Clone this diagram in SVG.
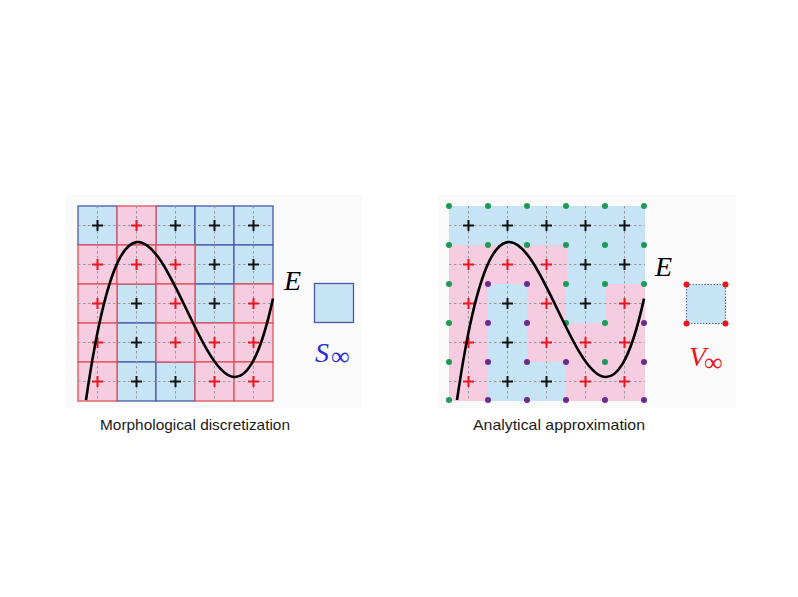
<svg xmlns="http://www.w3.org/2000/svg" xmlns:xlink="http://www.w3.org/1999/xlink" width="798" height="597" viewBox="0 0 798 597">
<style>
.bg{fill:#fafafa}
.pk{fill:#f6cde0}
.bl{fill:#c6e4f6}
.pks{fill:#f6cde0;stroke:#e2505c;stroke-width:1.3}
.bls{fill:#c6e4f6;stroke:#4a5aa8;stroke-width:1.3}
.dash{stroke:#9a9a9a;stroke-width:1;stroke-dasharray:2.5 2.5;fill:none}
.ck{stroke:#111;stroke-width:2;fill:none}
.cr{stroke:#e8141e;stroke-width:2;fill:none}
.curve{stroke:#000;stroke-width:2.6;fill:none}
.g{fill:#1f9a55}
.p{fill:#6b2a8c}
.rd{fill:#e8141e}
.math{font-family:"Liberation Serif","DejaVu Serif",serif;font-style:italic}
.inf{font-family:"Liberation Serif","DejaVu Serif",serif;font-size:26px}
.cap{font-family:"Liberation Sans",Arial,sans-serif;font-size:15px;fill:#1a1a1a}
</style>
<defs>
<path id="cross" d="M-5.5,0H5.5M0,-5.5V5.5"/>
</defs>
<rect class="bg" x="66" y="195" width="296" height="213"/>
<rect class="bg" x="438" y="195" width="298" height="213"/>

<g id="left-grid">
<g id="left-cells">
<rect class="bls" x="78" y="206" width="39" height="39"/>
<rect class="bls" x="156" y="206" width="39" height="39"/>
<rect class="bls" x="195" y="206" width="39" height="39"/>
<rect class="bls" x="234" y="206" width="39" height="39"/>
<rect class="bls" x="195" y="245" width="39" height="39"/>
<rect class="bls" x="234" y="245" width="39" height="39"/>
<rect class="bls" x="117" y="284" width="39" height="39"/>
<rect class="bls" x="195" y="284" width="39" height="39"/>
<rect class="bls" x="117" y="323" width="39" height="39"/>
<rect class="bls" x="117" y="362" width="39" height="39"/>
<rect class="bls" x="156" y="362" width="39" height="39"/>
<rect class="pks" x="117" y="206" width="39" height="39"/>
<rect class="pks" x="78" y="245" width="39" height="39"/>
<rect class="pks" x="117" y="245" width="39" height="39"/>
<rect class="pks" x="156" y="245" width="39" height="39"/>
<rect class="pks" x="78" y="284" width="39" height="39"/>
<rect class="pks" x="156" y="284" width="39" height="39"/>
<rect class="pks" x="234" y="284" width="39" height="39"/>
<rect class="pks" x="78" y="323" width="39" height="39"/>
<rect class="pks" x="156" y="323" width="39" height="39"/>
<rect class="pks" x="195" y="323" width="39" height="39"/>
<rect class="pks" x="234" y="323" width="39" height="39"/>
<rect class="pks" x="78" y="362" width="39" height="39"/>
<rect class="pks" x="195" y="362" width="39" height="39"/>
<rect class="pks" x="234" y="362" width="39" height="39"/>
</g>
<path class="dash" d="M97.5,206V401M136.5,206V401M175.5,206V401M214.5,206V401M253.5,206V401M78,225.5H273M78,264.5H273M78,303.5H273M78,342.5H273M78,381.5H273"/>
<g id="left-crosses">
<use href="#cross" class="ck" x="97.5" y="225.5"/>
<use href="#cross" class="cr" x="136.5" y="225.5"/>
<use href="#cross" class="ck" x="175.5" y="225.5"/>
<use href="#cross" class="ck" x="214.5" y="225.5"/>
<use href="#cross" class="ck" x="253.5" y="225.5"/>
<use href="#cross" class="cr" x="97.5" y="264.5"/>
<use href="#cross" class="cr" x="136.5" y="264.5"/>
<use href="#cross" class="cr" x="175.5" y="264.5"/>
<use href="#cross" class="ck" x="214.5" y="264.5"/>
<use href="#cross" class="ck" x="253.5" y="264.5"/>
<use href="#cross" class="cr" x="97.5" y="303.5"/>
<use href="#cross" class="ck" x="136.5" y="303.5"/>
<use href="#cross" class="cr" x="175.5" y="303.5"/>
<use href="#cross" class="ck" x="214.5" y="303.5"/>
<use href="#cross" class="cr" x="253.5" y="303.5"/>
<use href="#cross" class="cr" x="97.5" y="342.5"/>
<use href="#cross" class="ck" x="136.5" y="342.5"/>
<use href="#cross" class="cr" x="175.5" y="342.5"/>
<use href="#cross" class="cr" x="214.5" y="342.5"/>
<use href="#cross" class="cr" x="253.5" y="342.5"/>
<use href="#cross" class="cr" x="97.5" y="381.5"/>
<use href="#cross" class="ck" x="136.5" y="381.5"/>
<use href="#cross" class="ck" x="175.5" y="381.5"/>
<use href="#cross" class="cr" x="214.5" y="381.5"/>
<use href="#cross" class="cr" x="253.5" y="381.5"/>
</g>
<path id="left-curve" class="curve" d="M86,400 C148.33,-28.7 210.67,582.4 273,298.6"/>
</g>
<g id="left-E"><text class="math" x="284" y="290" font-size="28">E</text></g>
<g id="s-inf">
<rect class="bls" x="314.5" y="283.5" width="39" height="39"/>
<text class="math" x="315" y="362" font-size="28" fill="#2a2ad8">S</text>
<text class="inf" x="331" y="365" fill="#2a2ad8">∞</text>
</g>
<text class="cap" x="100" y="430" textLength="190" lengthAdjust="spacingAndGlyphs">Morphological discretization</text>

<g id="right-grid">
<g id="right-cells">
<rect class="bl" x="449" y="206" width="196" height="39"/>
<rect class="pk" x="449" y="245" width="118" height="39"/>
<rect class="bl" x="567" y="245" width="78" height="39"/>
<rect class="pk" x="449" y="284" width="39" height="117"/>
<rect class="bl" x="488" y="284" width="39" height="117"/>
<rect class="pk" x="527" y="284" width="39" height="78"/>
<rect class="bl" x="566" y="284" width="39" height="39"/>
<rect class="pk" x="605" y="284" width="40" height="39"/>
<rect class="pk" x="566" y="323" width="79" height="78"/>
<rect class="bl" x="527" y="362" width="39" height="39"/>
</g>
<path class="dash" d="M468.5,206V400M507.5,206V400M546.5,206V400M585.5,206V400M624.5,206V400M449,225.5H645M449,264.5H645M449,303.5H645M449,342.5H645M449,381.5H645"/>
<g id="right-crosses">
<use href="#cross" class="ck" x="468.5" y="225.5"/>
<use href="#cross" class="ck" x="507.5" y="225.5"/>
<use href="#cross" class="ck" x="546.5" y="225.5"/>
<use href="#cross" class="ck" x="585.5" y="225.5"/>
<use href="#cross" class="ck" x="624.5" y="225.5"/>
<use href="#cross" class="cr" x="468.5" y="264.5"/>
<use href="#cross" class="cr" x="507.5" y="264.5"/>
<use href="#cross" class="cr" x="546.5" y="264.5"/>
<use href="#cross" class="ck" x="585.5" y="264.5"/>
<use href="#cross" class="ck" x="624.5" y="264.5"/>
<use href="#cross" class="cr" x="468.5" y="303.5"/>
<use href="#cross" class="ck" x="507.5" y="303.5"/>
<use href="#cross" class="cr" x="546.5" y="303.5"/>
<use href="#cross" class="ck" x="585.5" y="303.5"/>
<use href="#cross" class="cr" x="624.5" y="303.5"/>
<use href="#cross" class="cr" x="468.5" y="342.5"/>
<use href="#cross" class="ck" x="507.5" y="342.5"/>
<use href="#cross" class="cr" x="546.5" y="342.5"/>
<use href="#cross" class="cr" x="585.5" y="342.5"/>
<use href="#cross" class="cr" x="624.5" y="342.5"/>
<use href="#cross" class="cr" x="468.5" y="381.5"/>
<use href="#cross" class="ck" x="507.5" y="381.5"/>
<use href="#cross" class="ck" x="546.5" y="381.5"/>
<use href="#cross" class="cr" x="585.5" y="381.5"/>
<use href="#cross" class="cr" x="624.5" y="381.5"/>
</g>
<g id="right-dots">
<circle class="g" cx="449" cy="206" r="3"/><circle class="g" cx="488" cy="206" r="3"/><circle class="g" cx="527" cy="206" r="3"/><circle class="g" cx="566" cy="206" r="3"/><circle class="g" cx="605" cy="206" r="3"/><circle class="g" cx="644" cy="206" r="3"/>
<circle class="g" cx="449" cy="245" r="3"/><circle class="g" cx="488" cy="245" r="3"/><circle class="g" cx="527" cy="245" r="3"/><circle class="g" cx="566" cy="245" r="3"/><circle class="g" cx="605" cy="245" r="3"/><circle class="g" cx="644" cy="245" r="3"/>
<circle class="g" cx="449" cy="284" r="3"/><circle class="p" cx="488" cy="284" r="3"/><circle class="p" cx="527" cy="284" r="3"/><circle class="g" cx="566" cy="284" r="3"/><circle class="g" cx="605" cy="284" r="3"/><circle class="g" cx="644" cy="284" r="3"/>
<circle class="g" cx="449" cy="323" r="3"/><circle class="p" cx="488" cy="323" r="3"/><circle class="p" cx="527" cy="323" r="3"/><circle class="g" cx="566" cy="323" r="3"/><circle class="g" cx="605" cy="323" r="3"/><circle class="p" cx="644" cy="323" r="3"/>
<circle class="g" cx="449" cy="362" r="3"/><circle class="p" cx="488" cy="362" r="3"/><circle class="p" cx="527" cy="362" r="3"/><circle class="p" cx="566" cy="362" r="3"/><circle class="g" cx="605" cy="362" r="3"/><circle class="p" cx="644" cy="362" r="3"/>
<circle class="g" cx="449" cy="400" r="3"/><circle class="p" cx="488" cy="400" r="3"/><circle class="p" cx="527" cy="400" r="3"/><circle class="p" cx="566" cy="400" r="3"/><circle class="p" cx="605" cy="400" r="3"/><circle class="p" cx="644" cy="400" r="3"/>
</g>
<path id="right-curve" class="curve" d="M457,400 C519.33,-28.7 581.67,582.4 644,298.6"/>
</g>
<g id="right-E"><text class="math" x="655" y="276" font-size="28">E</text></g>
<g id="v-inf">
<rect class="bl" x="686.5" y="284.5" width="39" height="39" stroke="#5a6aaa" stroke-width="1.2" stroke-dasharray="1.5 1.5"/>
<circle class="rd" cx="686.5" cy="284.5" r="3"/><circle class="rd" cx="725.5" cy="284.5" r="3"/><circle class="rd" cx="686.5" cy="323.5" r="3"/><circle class="rd" cx="725.5" cy="323.5" r="3"/>
<text class="math" x="689" y="366" font-size="28" fill="#e8141e">V</text>
<text class="inf" x="704" y="371" fill="#e8141e">∞</text>
</g>
<text class="cap" x="473" y="430" textLength="172" lengthAdjust="spacingAndGlyphs">Analytical approximation</text>
</svg>
